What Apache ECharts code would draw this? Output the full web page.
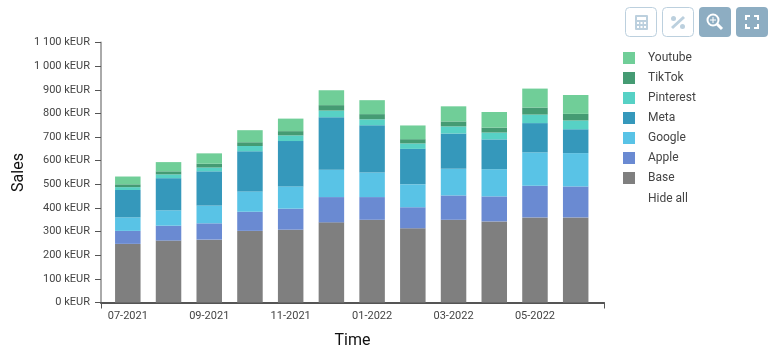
<!DOCTYPE html>
<html>
<head>
<meta charset="utf-8">
<style>html,body{margin:0;padding:0;background:#fff}#main{width:772px;height:357px}</style>
<script src="https://cdn.jsdelivr.net/npm/echarts@6/dist/echarts.min.js"></script>
</head>
<body>
<div id="main"></div>
<script>
var months = ['07-2021','08-2021','09-2021','10-2021','11-2021','12-2021','01-2022','02-2022','03-2022','04-2022','05-2022','06-2022'];
var base = [248,262,266,303,308,339,350,314,350,343,360,360];
var apple = [55,63,69,81,89,107,96,89,103,106,134,131];
var google = [57,65,75,86,94,116,104,97,113,115,141,141];
var meta = [116,136,145,170,192,222,200,150,149,126,124,101];
var pinterest = [12,16,16,22,24,28,25,23,30,29,36,37];
var tiktok = [12,13,16,16,18,23,22,18,21,21,30,28];
var youtube = [33,39,44,51,53,63,59,58,64,66,80,80];
var names = ['Base','Apple','Google','Meta','Pinterest','TikTok','Youtube'];
var colors = ['#7f7f7f','#6a8ad2','#59c3e6','#3598bb','#57d1c5','#459b73','#70ce98'];
var values = [base,apple,google,meta,pinterest,tiktok,youtube];

var fontName = 'Roboto';
var btnDark = '#8dadc2', btnLight = '#bcd0de';

var series = [];
for(var i in names){
	series.push({
		name : names[i],
		type : 'bar',
		stack : 'total',
		xAxisIndex : 1,
		yAxisIndex : 1,
		barWidth : 25.5,
		data : values[i],
		itemStyle : {color : colors[i]}
	});
}

var myChart = echarts.init(document.getElementById('main'));
var option = {
	animation : false,
	textStyle : {fontFamily : fontName},
	// grid 0 carries the visible axis frame, grid 1 the bars (axis line runs past the bars)
	grid : [
		{left : 101, top : 42.5, width : 503, height : 260, outerBoundsMode : 'none'},
		{left : 107.45, top : 42.5, width : 488.6, height : 260, outerBoundsMode : 'none'}
	],
	xAxis : [{
		gridIndex : 0,
		type : 'value',
		min : 0,
		max : 1,
		interval : 1,
		name : 'Time',
		nameLocation : 'middle',
		nameGap : 30.5,
		nameTextStyle : {color : '#111', fontSize : 16},
		splitLine : {show : false},
		axisLine : {lineStyle : {color : '#555', width : 2}},
		axisTick : {length : 6, lineStyle : {color : '#555'}},
		axisLabel : {show : false}
	},{
		gridIndex : 1,
		type : 'category',
		data : months,
		axisLine : {show : false},
		axisTick : {alignWithLabel : true, interval : 1, length : 6, lineStyle : {color : '#555'}},
		axisLabel : {interval : 1, color : '#444', fontSize : 11, margin : 8}
	}],
	yAxis : [{
		gridIndex : 0,
		type : 'value',
		min : 0,
		max : 1100,
		interval : 100,
		name : 'Sales',
		nameLocation : 'middle',
		nameGap : 74,
		nameMoveOverlap : false,
		nameTextStyle : {color : '#111', fontSize : 16},
		splitLine : {show : false},
		axisLine : {show : true, lineStyle : {color : '#aaa', width : 2}},
		axisTick : {show : true, length : 6, lineStyle : {color : '#555'}},
		axisLabel : {
			color : '#444',
			fontSize : 11,
			margin : 11,
			padding : [3,0,0,0],
			formatter : function(v){
				var s = v >= 1000 ? Math.floor(v/1000) + ' ' + ('00' + (v%1000)).slice(-3) : v;
				return s + ' kEUR';
			}
		}
	},{
		gridIndex : 1,
		type : 'value',
		min : 0,
		max : 1100,
		show : false
	}],
	legend : {
		orient : 'vertical',
		left : 623,
		top : 49.5,
		padding : 0,
		itemWidth : 12,
		itemHeight : 12,
		itemGap : 3,
		icon : 'rect',
		selectedMode : false,
		data : names.slice().reverse(),
		textStyle : {color : '#444', fontSize : 12, fontFamily : fontName, padding : [5,0,0,8], lineHeight : 12}
	},
	graphic : [
		{type : 'text', left : 648, top : 193, style : {text : 'Hide all', fill : '#444', font : '12px Roboto'}},
		{type : 'rect', shape : {x : 625.5, y : 7.5, width : 31, height : 29, r : 4}, style : {fill : '#fff', stroke : btnLight}},
		{type : 'rect', shape : {x : 662.5, y : 7.5, width : 31, height : 29, r : 4}, style : {fill : '#fff', stroke : btnLight}},
		{type : 'rect', shape : {x : 699, y : 7, width : 32, height : 30, r : 4}, style : {fill : btnDark}},
		{type : 'rect', shape : {x : 736, y : 7, width : 32, height : 30, r : 4}, style : {fill : btnDark}},
		// calculator
		{type : 'rect', shape : {x : 635, y : 15, width : 13, height : 15, r : 1}, style : {fill : btnLight}},
		{type : 'rect', shape : {x : 637, y : 17, width : 9, height : 3}, style : {fill : '#fff'}},
		{type : 'rect', shape : {x : 637, y : 22, width : 2, height : 2}, style : {fill : '#fff'}},
		{type : 'rect', shape : {x : 640.5, y : 22, width : 2, height : 2}, style : {fill : '#fff'}},
		{type : 'rect', shape : {x : 644, y : 22, width : 2, height : 2}, style : {fill : '#fff'}},
		{type : 'rect', shape : {x : 637, y : 26, width : 2, height : 2}, style : {fill : '#fff'}},
		{type : 'rect', shape : {x : 640.5, y : 26, width : 2, height : 2}, style : {fill : '#fff'}},
		{type : 'rect', shape : {x : 644, y : 26, width : 2, height : 2}, style : {fill : '#fff'}},
		// percent
		{type : 'line', shape : {x1 : 672, y1 : 28, x2 : 684, y2 : 17}, style : {stroke : btnLight, lineWidth : 3}},
		{type : 'circle', shape : {cx : 673.5, cy : 18.5, r : 2.5}, style : {fill : btnLight}},
		{type : 'circle', shape : {cx : 682.5, cy : 26.5, r : 2.5}, style : {fill : btnLight}},
		// zoom
		{type : 'circle', shape : {cx : 713, cy : 20, r : 5.5}, style : {fill : 'none', stroke : '#fff', lineWidth : 2}},
		{type : 'line', shape : {x1 : 717, y1 : 24, x2 : 722, y2 : 29}, style : {stroke : '#fff', lineWidth : 3}},
		{type : 'line', shape : {x1 : 710, y1 : 20, x2 : 716, y2 : 20}, style : {stroke : '#fff', lineWidth : 1}},
		{type : 'line', shape : {x1 : 713, y1 : 17, x2 : 713, y2 : 23}, style : {stroke : '#fff', lineWidth : 1}},
		// fullscreen
		{type : 'polyline', shape : {points : [[746,20],[746,16],[750,16]]}, style : {fill : 'none', stroke : '#fff', lineWidth : 2}},
		{type : 'polyline', shape : {points : [[754,16],[758,16],[758,20]]}, style : {fill : 'none', stroke : '#fff', lineWidth : 2}},
		{type : 'polyline', shape : {points : [[746,24],[746,28],[750,28]]}, style : {fill : 'none', stroke : '#fff', lineWidth : 2}},
		{type : 'polyline', shape : {points : [[754,28],[758,28],[758,24]]}, style : {fill : 'none', stroke : '#fff', lineWidth : 2}}
	],
	series : series
};
myChart.setOption(option);
</script>
</body>
</html>
